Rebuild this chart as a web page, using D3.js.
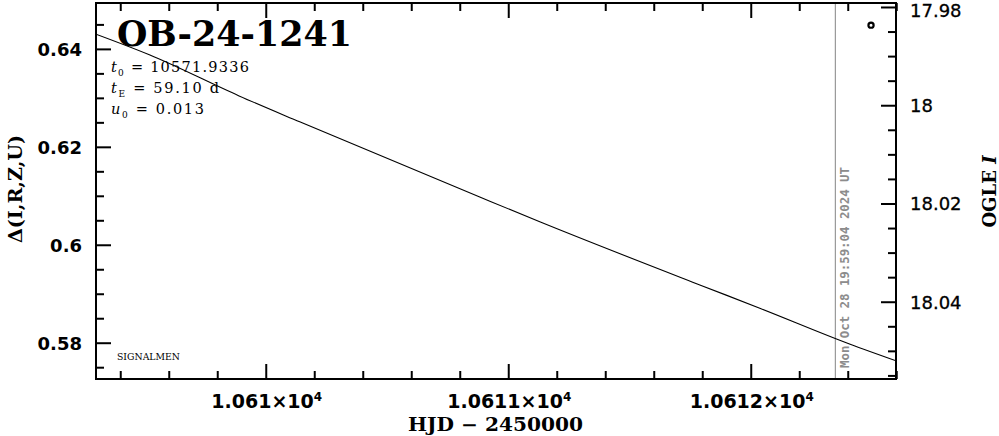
<!DOCTYPE html>
<html><head><meta charset="utf-8">
<script src="https://cdn.jsdelivr.net/npm/d3@7"></script>
<style>
html,body{margin:0;padding:0;background:#fff;}
svg{display:block;}
</style></head>
<body>
<svg id="chart" width="999" height="436"></svg>
<script>
// ---- data ----
const modelHJD   = [10609.30, 10609.52, 10609.89, 10610.14, 10610.88, 10611.13, 10611.79, 10612.04, 10612.41, 10612.60];
const modelDelta = [0.6430, 0.6388, 0.6304, 0.6251, 0.6098, 0.6047, 0.5918, 0.5870, 0.5797, 0.5763];
const obsHJD = [10612.496];
const obsMag = [17.9837];
const nowHJD = 10612.349;
const nowLabel = "Mon Oct 28 19:59:04 2024 UT";
const xTicks = [10610, 10611, 10612];
const xTickMantissa = ["1.061×10", "1.0611×10", "1.0612×10"];
const xTickExp = ["4", "4", "4"];
const leftTicks = [0.58, 0.6, 0.62, 0.64];
const leftTickLabels = ["0.58", "0.6", "0.62", "0.64"];
const rightTicks = [17.98, 18, 18.02, 18.04];
const rightTickLabels = ["17.98", "18", "18.02", "18.04"];
const eventName = "OB-24-1241";
const params = [
  {sym: "t", sub: "0", text: " = 10571.9336", w: 138},
  {sym: "t", sub: "E", text: " = 59.10 d", w: 108},
  {sym: "u", sub: "0", text: " = 0.013", w: 93}
];

// ---- layout ----
const L = 96, T = 3, R = 896, B = 379;
const svg = d3.select("#chart");
const x = d3.scaleLinear().domain([10609.300, 10612.599]).range([L, R]);
const yL = d3.scaleLinear().domain([0.57259, 0.64937]).range([B, T]);
const yR = d3.scaleLinear().domain([17.97919, 18.05573]).range([T, B]);

const xMinor = d3.range(10609.4, 10612.6, 0.2).filter(v => xTicks.every(t => Math.abs(t - v) > 1e-6));
const lMinor = d3.range(0.575, 0.649, 0.005).filter(v => leftTicks.every(t => Math.abs(t - v) > 1e-6));
const rMinor = d3.range(17.98, 18.056, 0.005).filter(v => rightTicks.every(t => Math.abs(t - v) > 1e-6));

const tickStyle = g => {
  g.select(".domain").remove();
  g.selectAll(".tick line").attr("stroke", "#000").attr("stroke-width", 2);
  g.selectAll(".tick text").remove();
};

// clip
svg.append("clipPath").attr("id", "clip").append("rect")
  .attr("x", L).attr("y", T).attr("width", R - L).attr("height", B - T);

// bottom ticks
svg.append("g").attr("transform", `translate(0,${B})`)
  .call(d3.axisBottom(x).tickValues(xTicks).tickSize(-15)).call(tickStyle);
svg.append("g").attr("transform", `translate(0,${B})`)
  .call(d3.axisBottom(x).tickValues(xMinor).tickSize(-8)).call(tickStyle);
// top ticks
svg.append("g").attr("transform", `translate(0,${T})`)
  .call(d3.axisTop(x).tickValues(xTicks).tickSize(-15)).call(tickStyle);
svg.append("g").attr("transform", `translate(0,${T})`)
  .call(d3.axisTop(x).tickValues(xMinor).tickSize(-8)).call(tickStyle);
// left ticks
svg.append("g").attr("transform", `translate(${L},0)`)
  .call(d3.axisLeft(yL).tickValues(leftTicks).tickSize(-15)).call(tickStyle);
svg.append("g").attr("transform", `translate(${L},0)`)
  .call(d3.axisLeft(yL).tickValues(lMinor).tickSize(-8)).call(tickStyle);
// right ticks
svg.append("g").attr("transform", `translate(${R},0)`)
  .call(d3.axisRight(yR).tickValues(rightTicks).tickSize(-15)).call(tickStyle);
svg.append("g").attr("transform", `translate(${R},0)`)
  .call(d3.axisRight(yR).tickValues(rMinor).tickSize(-8)).call(tickStyle);

// "now" line
svg.append("line")
  .attr("x1", x(nowHJD)).attr("x2", x(nowHJD)).attr("y1", T).attr("y2", B)
  .attr("stroke", "#999").attr("stroke-width", 1.2);
svg.append("text")
  .attr("transform", `translate(${x(nowHJD) + 14},368) rotate(-90)`)
  .attr("font-family", "DejaVu Sans Mono").attr("font-weight", "bold")
  .attr("font-size", 13).attr("fill", "#8c8c8c")
  .attr("textLength", 201).attr("lengthAdjust", "spacingAndGlyphs")
  .text(nowLabel);

// model line
const line = d3.line().x((d, i) => x(modelHJD[i])).y(d => yL(d)).curve(d3.curveMonotoneX);
svg.append("path").datum(modelDelta).attr("d", line)
  .attr("clip-path", "url(#clip)")
  .attr("fill", "none").attr("stroke", "#000").attr("stroke-width", 1.1);

// observed point
svg.selectAll("circle.obs").data(obsHJD).enter().append("circle")
  .attr("class", "obs")
  .attr("cx", d => x(d)).attr("cy", (d, i) => yR(obsMag[i])).attr("r", 2.6)
  .attr("fill", "#fff").attr("stroke", "#000").attr("stroke-width", 2.2);

// frame
svg.append("rect").attr("x", L).attr("y", T).attr("width", R - L).attr("height", B - T)
  .attr("fill", "none").attr("stroke", "#000").attr("stroke-width", 2);

// left tick labels
svg.selectAll("text.lt").data(leftTicks).enter().append("text")
  .attr("class", "lt")
  .attr("x", 82).attr("y", d => yL(d) + 7)
  .attr("text-anchor", "end")
  .attr("font-family", "DejaVu Sans").attr("font-weight", "bold").attr("font-size", 18)
  .text((d, i) => leftTickLabels[i]);

// right tick labels
svg.selectAll("text.rt").data(rightTicks).enter().append("text")
  .attr("class", "rt")
  .attr("x", 910).attr("y", (d, i) => Math.max(yR(d), 10) + 7)
  .attr("font-family", "DejaVu Sans").attr("font-size", 18)
  .attr("stroke", "#000").attr("stroke-width", 0.3)
  .text((d, i) => rightTickLabels[i]);

// bottom tick labels
const xl = svg.selectAll("text.xt").data(xTicks).enter().append("text")
  .attr("class", "xt")
  .attr("x", d => x(d) + 1).attr("y", 408)
  .attr("text-anchor", "middle")
  .attr("font-family", "DejaVu Sans").attr("font-weight", "bold").attr("font-size", 19);
xl.append("tspan").text((d, i) => xTickMantissa[i]);
xl.append("tspan").attr("dy", -7).attr("font-size", 12).text((d, i) => xTickExp[i]);

// axis titles
svg.append("text").attr("x", 495.5).attr("y", 431).attr("text-anchor", "middle")
  .attr("font-family", "DejaVu Serif").attr("font-weight", "bold").attr("font-size", 18)
  .attr("textLength", 175).attr("lengthAdjust", "spacingAndGlyphs")
  .text("HJD − 2450000");

svg.append("text").attr("transform", "translate(22,189) rotate(-90)")
  .attr("text-anchor", "middle")
  .attr("font-family", "DejaVu Serif").attr("font-weight", "bold").attr("font-size", 18)
  .attr("textLength", 108).attr("lengthAdjust", "spacingAndGlyphs")
  .text("Δ(I,R,Z,U)");

const ogle = svg.append("text").attr("transform", "translate(996,191.5) rotate(-90)")
  .attr("text-anchor", "middle")
  .attr("font-family", "DejaVu Serif").attr("font-weight", "bold").attr("font-size", 18);
ogle.append("tspan").text("OGLE ");
ogle.append("tspan").attr("font-style", "italic").text("I");

// event name
svg.append("text").attr("x", 117).attr("y", 46)
  .attr("font-family", "DejaVu Serif").attr("font-weight", "bold").attr("font-size", 35)
  .attr("textLength", 235).attr("lengthAdjust", "spacingAndGlyphs")
  .text(eventName);

// parameters
params.forEach((p, i) => {
  const t = svg.append("text").attr("x", 111).attr("y", 71.5 + i * 21)
    .attr("font-family", "DejaVu Serif").attr("font-size", 14.5)
    .attr("textLength", p.w).attr("lengthAdjust", "spacing");
  t.append("tspan").attr("font-style", "italic").text(p.sym);
  t.append("tspan").attr("dy", 4).attr("font-size", 9).text(p.sub);
  t.append("tspan").attr("dy", -4).text(p.text);
});

// signature
svg.append("text").attr("x", 117).attr("y", 360)
  .attr("font-family", "DejaVu Serif").attr("font-size", 8.5)
  .attr("textLength", 63).attr("lengthAdjust", "spacingAndGlyphs")
  .text("SIGNALMEN");
</script>
</body></html>
